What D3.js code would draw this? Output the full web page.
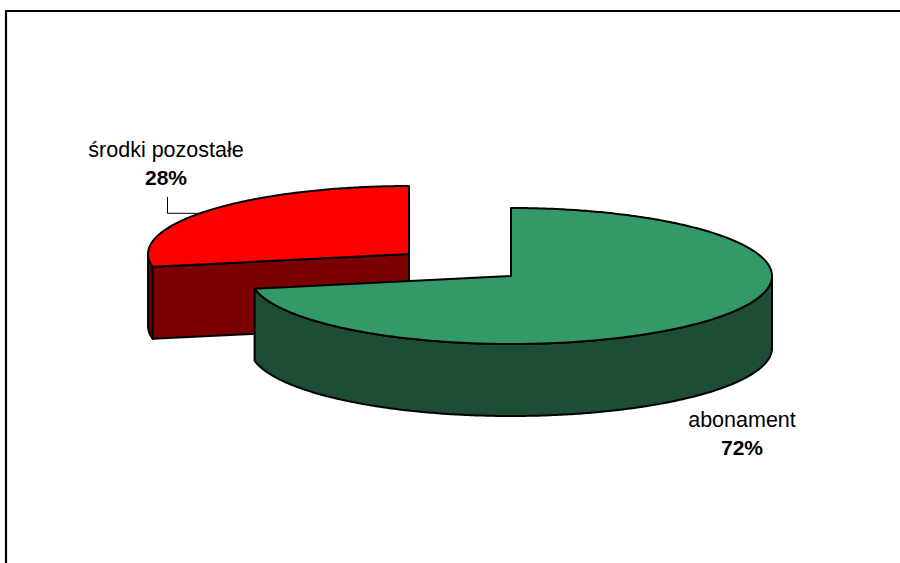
<!DOCTYPE html>
<html><head><meta charset="utf-8">
<script src="https://cdn.jsdelivr.net/npm/d3@7"></script>
<style>html,body{margin:0;padding:0;background:#fff;}svg{display:block;}</style>
</head><body>
<script>
const categories = ["abonament", "środki pozostałe"];
const values = [72, 28];
const percentLabels = ["72%", "28%"];
const topColors = ["#339966", "#ff0000"];
const sideColors = ["#1e4d35", "#7b0000"];
const outerSideColors = ["#1e4d35", "#6e0000"];
const exploded = [0, 0.507];

const W = 900, H = 563;
const cx = 511, cy = 276, rx = 261, ry = 68, depth = 72;

const svg = d3.select("body").append("svg").attr("width", W).attr("height", H);

// border
svg.append("path").attr("d", `M6,${H+10} V11 H${W+10}`)
  .attr("fill", "none").attr("stroke", "#000").attr("stroke-width", 2.2);

const pie = d3.pie().sort(null).value(d => d).startAngle(0).endAngle(2 * Math.PI);
const arcs = pie(values).map((a, i) => {
  const mid = (a.startAngle + a.endAngle) / 2;
  const e = exploded[i];
  return Object.assign({}, a, {
    i,
    ox: cx + e * rx * Math.sin(mid),
    oy: cy - e * ry * Math.cos(mid)
  });
});

function pt(a, t, dz) {
  return [a.ox + rx * Math.sin(t), a.oy - ry * Math.cos(t) + (dz || 0)];
}
function arcPts(a, t0, t1, dz) {
  const n = Math.max(2, Math.ceil(Math.abs(t1 - t0) / 0.01));
  const pts = [];
  for (let k = 0; k <= n; k++) pts.push(pt(a, t0 + (t1 - t0) * k / n, dz));
  return pts;
}
const line = d3.line();
const stroke = {stroke: "#000", "stroke-width": 2, "stroke-linejoin": "round"};
function styled(sel) { for (const k in stroke) sel.attr(k, stroke[k]); return sel; }

// draw back-most first
const order = arcs.slice().sort((a, b) => a.oy - b.oy);
const g = svg.append("g");
order.forEach(a => {
  const a0 = a.startAngle, a1 = a.endAngle;
  const v0 = Math.max(a0, Math.PI / 2), v1 = Math.min(a1, 3 * Math.PI / 2);
  if (v1 > v0) {
    const topPts = arcPts(a, v0, v1, 0);
    const botPts = arcPts(a, v1, v0, depth);
    styled(g.append("path").attr("d", line(topPts.concat(botPts)) + "Z")
      .attr("fill", outerSideColors[a.i]));
  }
  if (Math.sin(a0) < -1e-6) {
    const p = pt(a, a0, 0), c = [a.ox, a.oy];
    const pts = [c, p, [p[0], p[1] + depth], [c[0], c[1] + depth]];
    styled(g.append("path").attr("d", line(pts) + "Z").attr("fill", sideColors[a.i]));
  }
  if (Math.sin(a1) > 1e-6) {
    const p = pt(a, a1, 0), c = [a.ox, a.oy];
    const pts = [c, p, [p[0], p[1] + depth], [c[0], c[1] + depth]];
    styled(g.append("path").attr("d", line(pts) + "Z").attr("fill", sideColors[a.i]));
  }
  const topPts = [[a.ox, a.oy]].concat(arcPts(a, a0, a1, 0));
  styled(g.append("path").attr("d", line(topPts) + "Z").attr("fill", topColors[a.i]));
});

// labels
const font = "'Liberation Sans', Arial, sans-serif";
const labelPos = [{x: 742, y: 427}, {x: 166, y: 157}];
arcs.forEach(a => {
  const lp = labelPos[a.i];
  svg.append("text").attr("x", lp.x).attr("y", lp.y).attr("text-anchor", "middle")
    .attr("font-family", font).attr("font-size", 21.5).attr("fill", "#000")
    .text(categories[a.i]);
  svg.append("text").attr("x", lp.x).attr("y", lp.y + 28).attr("text-anchor", "middle")
    .attr("font-family", font).attr("font-size", 21).attr("font-weight", "bold").attr("fill", "#000")
    .text(percentLabels[a.i]);
});
const red = arcs[1];
const tEnd = 2 * Math.PI - Math.asin((red.ox - 200) / rx);
const endP = pt(red, tEnd, 0);
svg.append("path").attr("d", `M167.5,197 V${endP[1]} H${endP[0]}`)
  .attr("fill", "none").attr("stroke", "#000").attr("stroke-width", 1);
</script>
</body></html>
